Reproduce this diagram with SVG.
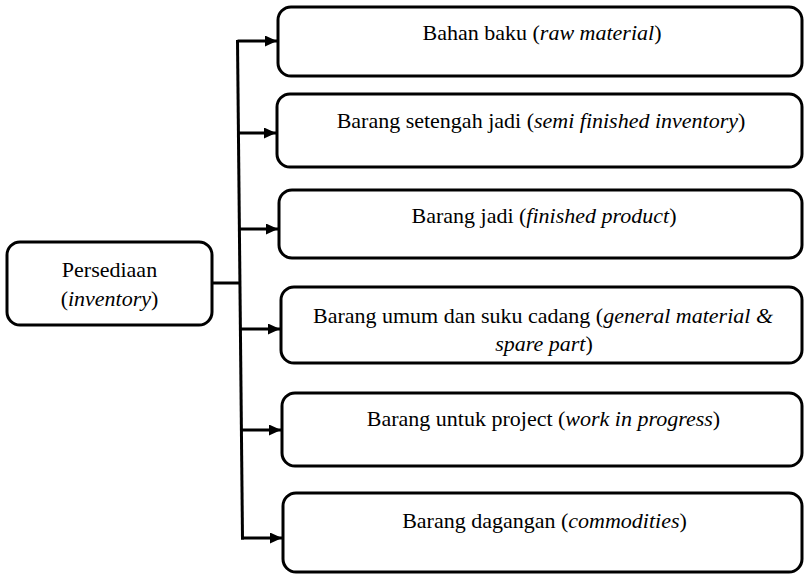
<svg xmlns="http://www.w3.org/2000/svg" width="804" height="574" viewBox="0 0 804 574">
  <defs>
    <style>
      .box { fill: #ffffff; stroke: #000000; stroke-width: 3; }
      .conn { stroke: #000000; stroke-width: 3; fill: none; }
      text { font-family: 'Liberation Serif', 'Times New Roman', serif; font-size: 22px; fill: #000000; text-anchor: middle; }
      .i { font-style: italic; }
    </style>
    <marker id="arr" markerUnits="userSpaceOnUse" markerWidth="13" markerHeight="12" refX="12" refY="5.5" orient="auto">
      <path d="M0,0 L12,5.5 L0,11 z" fill="#000000"/>
    </marker>
    <clipPath id="clip4">
      <rect x="281" y="287" width="521" height="71"/>
    </clipPath>
  </defs>

  <g id="connectors">
    <line class="conn" x1="237.5" y1="40" x2="242.5" y2="539.5"/>
    <line class="conn" x1="212" y1="283" x2="240" y2="283"/>
    <line class="conn" x1="237.5" y1="41" x2="277" y2="41" marker-end="url(#arr)"/>
    <line class="conn" x1="238.4" y1="133" x2="276" y2="133" marker-end="url(#arr)"/>
    <line class="conn" x1="239.4" y1="229" x2="278" y2="229" marker-end="url(#arr)"/>
    <line class="conn" x1="240.4" y1="329" x2="280" y2="329" marker-end="url(#arr)"/>
    <line class="conn" x1="241.4" y1="430" x2="281" y2="430" marker-end="url(#arr)"/>
    <line class="conn" x1="241" y1="538" x2="282" y2="538" marker-end="url(#arr)"/>
  </g>

  <g id="node-persediaan">
    <rect class="box" x="7" y="242" width="205" height="83" rx="13"/>
    <text x="109.5" y="277">Persediaan</text>
    <text x="109.5" y="306">(<tspan class="i">inventory</tspan>)</text>
  </g>

  <g id="node-bahan-baku">
    <rect class="box" x="278" y="7" width="524" height="69" rx="13"/>
    <text x="542" y="40">Bahan baku (<tspan class="i">raw material</tspan>)</text>
  </g>

  <g id="node-setengah-jadi">
    <rect class="box" x="277" y="94" width="525" height="73" rx="13"/>
    <text x="541" y="128">Barang setengah jadi (<tspan class="i">semi finished inventory</tspan>)</text>
  </g>

  <g id="node-barang-jadi">
    <rect class="box" x="279" y="190" width="523" height="68" rx="13"/>
    <text x="544" y="223">Barang jadi (<tspan class="i">finished product</tspan>)</text>
  </g>

  <g id="node-umum-suku-cadang">
    <rect class="box" x="281" y="287" width="521" height="76" rx="13"/>
    <g clip-path="url(#clip4)">
      <text x="543" y="323">Barang umum dan suku cadang (<tspan class="i">general material &amp;</tspan></text>
      <text x="544" y="351"><tspan class="i">spare part</tspan>)</text>
    </g>
  </g>

  <g id="node-project">
    <rect class="box" x="282" y="393" width="520" height="73" rx="13"/>
    <text x="543.5" y="426">Barang untuk project (<tspan class="i">work in progress</tspan>)</text>
  </g>

  <g id="node-dagangan">
    <rect class="box" x="283" y="493" width="519" height="79" rx="13"/>
    <text x="544.5" y="528">Barang dagangan (<tspan class="i">commodities</tspan>)</text>
  </g>
</svg>
